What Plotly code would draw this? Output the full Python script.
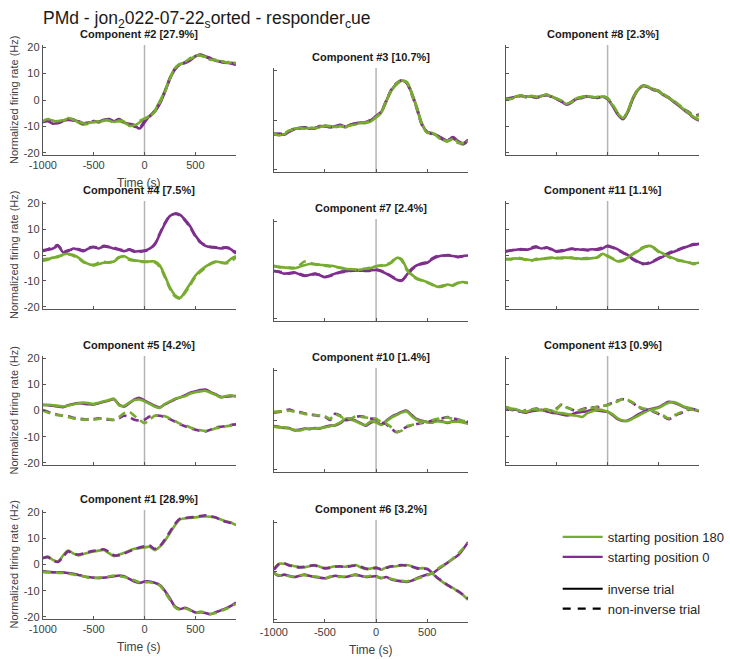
import plotly.graph_objects as go

# ---------------- data ----------------
TIME = [-1000, -950, -900, -850, -800, -750, -700, -650, -600, -550, -500, -450, -400, -350,
        -300, -250, -200, -150, -100, -50, 0, 50, 100, 150, 200, 250, 300, 350, 400, 450,
        500, 550, 600, 650, 700, 750, 800, 850, 900]

X_TICKS = [-1000, -500, 0, 500]
X_TICK_LABELS = ["-1000", "-500", "0", "500"]
Y_TICKS = [-20, -10, 0, 10, 20]
Y_TICK_LABELS = ["-20", "-10", "0", "10", "20"]
Y_TICKS_MID = [-20, 0, 20]

# Component #2
C2_G_SOLID = [-8.5,-7.5,-7.8,-8.3,-7.8,-7.0,-7.3,-8.5,-9.3,-8.8,-8.0,-8.5,-7.8,-7.5,-8.3,-8.0,-8.6,-9.5,-9.8,-8.5,-7.2,-6.0,-4.0,-0.5,3.5,8.5,12.0,13.5,14.2,15.5,16.5,17.0,16.2,15.5,15.0,14.6,14.0,14.2,13.6]
C2_G_DASH = [-8.0,-7.2,-8.0,-8.0,-7.5,-6.8,-7.5,-8.2,-8.8,-9.2,-8.3,-8.0,-7.5,-7.8,-8.5,-7.8,-8.2,-9.8,-9.5,-8.0,-7.0,-6.2,-4.5,-1.0,3.0,8.0,12.0,13.8,14.5,15.8,16.8,16.8,16.0,15.2,15.2,14.8,14.2,14.5,13.8]
C2_P_SOLID = [-8.2,-8.0,-9.0,-8.5,-7.8,-7.5,-7.8,-8.0,-8.8,-8.5,-8.3,-8.2,-7.5,-7.2,-8.0,-7.2,-8.5,-9.0,-9.5,-10.8,-8.5,-6.0,-4.5,-1.5,3.0,8.0,11.5,13.5,14.0,15.0,16.5,17.2,16.5,15.8,14.8,14.5,14.2,13.8,13.3]
C2_P_DASH = [-8.3,-7.8,-8.5,-8.8,-8.0,-7.2,-7.5,-8.3,-9.0,-8.7,-8.0,-8.3,-7.7,-7.3,-8.2,-7.5,-8.3,-9.2,-10.0,-10.5,-8.0,-6.3,-4.2,-1.2,3.2,8.2,11.8,13.6,14.2,15.3,16.6,17.0,16.3,15.6,15.0,14.4,14.1,14.0,13.5]

# Component #4
C4_P_SOLID = [1.5,2.0,2.5,3.5,1.0,1.5,2.5,2.0,1.5,2.5,3.0,2.5,3.3,3.0,2.5,2.0,1.5,2.0,1.3,1.5,1.7,2.5,4.0,8.0,12.0,15.0,16.0,15.5,13.5,11.0,7.5,5.0,3.5,3.0,2.8,2.5,2.8,2.2,0.5]
C4_P_DASH = [1.8,2.2,3.0,3.8,1.2,1.8,2.2,2.3,1.8,2.8,3.2,2.8,3.5,3.2,2.8,2.2,1.8,2.2,1.5,1.3,1.5,2.3,4.2,8.3,12.3,15.2,15.8,15.2,13.2,10.5,7.2,4.8,3.8,3.2,3.0,2.8,3.0,2.5,1.0]
C4_G_SOLID = [-1.7,-1.5,-1.0,-0.8,0.2,0.5,0.0,-1.0,-2.5,-3.5,-4.0,-3.5,-3.0,-2.8,-2.5,-1.0,-0.5,-1.5,-2.0,-2.3,-2.5,-2.5,-2.5,-4.0,-8.0,-12.5,-15.5,-16.5,-14.0,-11.0,-8.0,-6.0,-4.5,-3.2,-2.5,-2.8,-3.0,-1.5,-0.5]
C4_G_DASH = [-2.2,-1.8,-1.2,-0.5,0.0,0.2,-0.3,-1.3,-2.8,-3.2,-3.8,-3.0,-2.6,-3.0,-2.2,-0.8,-0.8,-1.8,-2.2,-2.5,-2.7,-2.7,-2.8,-4.5,-8.5,-13.0,-16.0,-16.8,-14.5,-11.5,-8.5,-6.5,-4.8,-3.5,-2.8,-3.0,-3.2,-2.5,-1.0]

# Component #5
C5_G_SOLID = [2.0,2.2,2.0,1.8,1.5,1.8,2.3,2.8,3.0,2.8,2.5,3.0,3.5,4.0,4.5,2.0,1.8,3.0,4.0,4.2,3.5,2.5,1.5,1.0,2.5,3.5,4.5,5.0,5.5,6.5,7.0,7.3,7.5,6.8,6.0,5.0,5.5,5.8,5.3]
C5_P_SOLID = [2.2,2.0,1.8,1.5,1.3,2.0,2.5,2.8,2.6,2.4,2.3,2.8,3.3,3.8,4.3,2.3,1.5,2.8,4.2,4.8,3.8,2.8,1.8,1.2,2.3,3.3,4.3,5.0,5.8,6.8,7.3,7.8,8.0,7.0,6.2,5.2,5.3,5.5,5.5]
C5_G_DASH = [0.0,-0.8,-1.5,-1.8,-2.0,-2.5,-3.0,-3.3,-3.5,-3.3,-3.5,-3.2,-3.0,-3.3,-3.5,-2.5,-1.0,-0.5,-2.0,-3.5,-4.8,-3.5,-2.0,-1.8,-2.2,-3.0,-4.0,-5.0,-5.5,-6.5,-7.0,-7.5,-7.8,-7.5,-6.8,-6.5,-6.0,-5.8,-5.5]
C5_P_DASH = [0.2,-0.5,-1.2,-1.6,-2.0,-2.2,-2.8,-3.0,-3.3,-3.5,-3.3,-3.0,-3.3,-3.5,-3.6,-3.0,-2.0,-2.5,-3.5,-3.8,-3.5,-2.3,-1.8,-2.0,-2.5,-3.3,-4.3,-5.3,-6.0,-6.8,-7.3,-7.8,-8.0,-7.3,-6.5,-6.2,-6.0,-5.5,-5.3]

# Component #1
C1_G_SOLID = [2.3,3.0,1.7,1.2,3.5,5.3,4.2,3.5,4.0,4.5,5.0,5.3,5.5,4.3,3.2,3.8,4.5,5.3,6.0,6.2,6.5,6.8,5.5,6.8,9.0,12.0,15.0,17.2,17.6,17.8,18.0,18.2,18.3,18.2,17.8,17.2,16.5,16.0,15.0]
C1_P_DASH = [2.5,2.8,1.5,1.0,3.0,5.0,4.0,3.8,4.2,4.8,5.2,5.5,5.8,4.8,3.5,3.5,4.2,5.0,5.8,6.5,7.0,7.2,6.0,7.0,9.5,12.5,15.5,17.5,17.8,18.0,18.2,18.5,18.8,18.5,18.0,17.0,16.3,15.8,15.2]
C1_P_SOLID = [-2.5,-2.8,-3.0,-3.0,-3.0,-3.3,-3.5,-4.0,-4.5,-4.8,-5.0,-5.2,-5.0,-4.8,-4.5,-4.2,-4.5,-5.5,-6.5,-7.0,-6.5,-6.5,-7.0,-7.8,-10.0,-13.0,-16.0,-17.0,-16.5,-17.3,-18.3,-18.2,-18.5,-19.0,-18.2,-17.5,-16.8,-15.8,-14.5]
C1_G_DASH = [-2.8,-3.0,-2.8,-3.2,-3.2,-3.5,-3.8,-4.2,-4.5,-5.0,-5.2,-5.0,-4.8,-4.6,-4.2,-4.5,-4.8,-5.3,-6.0,-6.8,-6.8,-6.8,-7.2,-8.0,-10.5,-13.5,-16.3,-17.3,-16.8,-17.5,-18.5,-18.0,-18.3,-18.8,-18.5,-17.8,-17.0,-16.0,-15.0]

# Component #3
C3_G_SOLID = [-6.0,-6.0,-5.8,-4.5,-3.5,-3.5,-3.2,-3.3,-3.5,-2.8,-2.5,-2.8,-2.8,-2.3,-3.0,-2.0,-1.5,-1.3,-1.2,-0.5,1.0,3.0,7.5,12.0,14.5,16.0,15.5,11.0,5.0,-1.5,-5.0,-5.3,-6.5,-8.0,-8.8,-7.5,-9.0,-10.0,-8.5]
C3_G_DASH = [-5.5,-6.3,-5.5,-4.3,-3.8,-3.2,-3.5,-3.0,-3.3,-3.0,-2.3,-2.5,-3.0,-2.5,-2.7,-2.2,-1.8,-1.0,-1.0,-0.3,1.2,3.3,7.8,12.3,14.8,16.3,15.3,10.5,4.5,-2.0,-5.2,-5.0,-6.8,-8.3,-8.5,-7.8,-9.3,-9.5,-9.0]
C3_P_SOLID = [-5.5,-5.8,-6.0,-4.8,-3.8,-3.2,-3.0,-3.5,-3.3,-2.5,-2.6,-3.0,-2.5,-2.0,-2.8,-1.8,-1.3,-1.0,-1.0,0.0,1.5,3.3,7.8,12.2,14.7,16.0,15.2,10.8,4.8,-1.8,-4.8,-5.5,-6.3,-7.5,-8.5,-7.0,-8.5,-9.5,-8.0]
C3_P_DASH = [-5.8,-5.5,-5.7,-4.6,-3.6,-3.4,-3.1,-3.2,-3.4,-2.7,-2.4,-2.7,-2.6,-2.2,-2.6,-1.9,-1.4,-1.1,-0.8,0.2,1.6,3.5,8.0,12.5,15.0,16.2,15.0,10.3,4.3,-2.2,-5.0,-5.8,-6.5,-7.8,-8.2,-7.3,-8.8,-9.8,-8.3]

# Component #7
C7_G_SOLID = [1.6,1.3,1.1,0.8,0.7,1.3,2.0,2.5,2.5,2.2,2.0,1.8,1.5,0.8,0.5,0.2,0.0,0.2,0.3,0.8,1.5,1.8,2.0,3.0,5.0,4.5,0.5,-2.0,-3.5,-4.3,-5.0,-6.0,-7.0,-6.8,-6.0,-6.5,-5.5,-5.0,-5.5]
C7_G_DASH = [1.8,1.2,0.9,1.0,1.0,2.0,3.5,3.0,2.3,2.0,1.8,1.5,1.2,1.0,0.6,0.4,0.2,0.3,0.6,1.0,1.6,2.0,2.3,3.3,5.3,4.0,0.0,-2.3,-3.8,-4.5,-5.2,-6.2,-6.8,-6.5,-6.2,-6.3,-5.3,-5.2,-5.3]
C7_P_SOLID = [-0.3,-0.8,-1.5,-1.3,-1.0,-1.8,-2.5,-2.0,-1.5,-2.2,-3.0,-2.3,-1.5,-0.8,-0.5,-0.3,0.0,-0.3,-0.3,-0.1,0.0,-0.5,-1.5,-2.8,-4.0,-4.5,-2.0,0.5,2.0,2.5,3.0,4.5,5.5,6.0,6.0,5.8,5.5,5.8,6.0]
C7_P_DASH = [-0.5,-0.6,-1.3,-1.5,-1.2,-1.6,-2.3,-2.2,-1.7,-2.0,-2.8,-2.5,-1.7,-1.0,-0.7,-0.4,-0.2,-0.2,-0.4,-0.3,0.2,-0.3,-1.3,-2.5,-3.8,-4.3,-2.3,0.2,1.8,2.8,3.3,4.8,5.8,5.8,6.2,6.0,5.3,5.6,5.8]

# Component #10
C10_G_SOLID = [-2.7,-3.0,-3.0,-3.5,-4.0,-4.3,-3.7,-3.5,-3.5,-3.3,-3.0,-2.5,-2.0,-1.0,0.5,0.2,-0.5,-1.5,-2.0,-0.5,-1.0,-2.0,-0.5,1.0,2.0,3.0,3.5,1.5,0.0,-0.5,-1.0,-0.8,-0.5,-0.8,-1.0,-0.7,-0.7,-1.0,-1.5]
C10_P_SOLID = [-2.5,-2.8,-3.2,-3.3,-4.2,-4.0,-3.5,-3.7,-3.3,-3.5,-2.8,-2.3,-2.2,-1.3,0.3,0.5,-0.3,-1.3,-2.3,-1.0,-0.8,-1.8,-0.3,1.3,2.3,3.3,3.8,2.0,0.3,-0.3,-0.8,-1.0,-0.3,-0.6,-1.2,-0.5,-0.3,-0.8,-1.3]
C10_G_DASH = [3.3,3.5,3.5,3.8,3.5,3.0,2.5,2.3,2.0,1.8,1.5,0.5,2.3,1.5,0.3,0.5,1.5,1.3,1.0,0.8,0.5,-0.8,-1.5,-3.0,-4.8,-4.3,-2.5,-2.0,-1.5,-1.0,-0.5,0.0,0.5,0.8,1.0,0.5,0.0,-0.3,-0.5]
C10_P_DASH = [3.0,3.3,3.8,4.3,3.5,3.2,2.7,2.2,2.0,1.6,1.3,0.0,2.5,1.8,0.0,0.3,1.3,1.5,1.2,0.6,0.3,-1.0,-1.8,-3.5,-5.0,-4.0,-2.8,-2.2,-1.6,-1.2,-0.8,-0.2,0.3,0.7,1.2,0.8,0.2,-0.2,-0.8]

# Component #6
C6_G_SOLID = [0.7,3.0,3.0,2.5,2.0,1.7,1.5,2.0,2.5,1.8,1.0,1.5,2.0,1.8,1.8,2.2,2.5,1.5,0.8,1.0,1.5,0.5,1.5,1.8,2.0,2.3,2.5,2.0,1.0,1.2,1.0,-1.0,-3.0,-4.5,-6.0,-7.0,-8.5,-10.0,-12.0]
C6_P_DASH = [0.5,2.8,3.2,2.3,1.8,1.5,1.8,2.2,2.3,1.5,1.2,1.3,1.8,2.0,1.6,2.0,2.3,1.8,1.0,0.8,1.3,0.8,1.3,2.0,2.2,2.5,2.2,1.8,1.2,1.0,0.8,-0.8,-2.8,-4.3,-5.8,-7.2,-8.3,-9.8,-11.5]
C6_P_SOLID = [-0.7,-2.0,-1.5,-2.0,-2.5,-2.0,-1.5,-2.0,-2.5,-2.8,-3.0,-2.5,-2.0,-2.3,-2.5,-2.0,-1.5,-2.0,-2.5,-2.3,-2.2,-3.0,-2.5,-3.5,-4.0,-4.3,-4.5,-4.0,-3.0,-2.2,-1.5,-1.0,0.5,2.0,3.5,5.0,6.5,9.0,12.0]
C6_G_DASH = [-1.0,-1.8,-1.8,-2.2,-2.3,-1.8,-1.7,-2.2,-2.3,-2.6,-3.2,-2.3,-2.2,-2.5,-2.3,-1.8,-1.7,-2.2,-2.3,-2.0,-2.4,-2.8,-2.7,-3.3,-3.8,-4.0,-4.3,-3.8,-3.2,-2.5,-1.8,-0.8,0.8,2.2,3.3,5.2,7.0,9.3,11.5]

# Component #8
C8_G_SOLID = [0.4,0.6,1.4,1.7,1.2,1.5,1.0,1.6,2.0,1.2,0.5,-0.5,-1.5,-0.5,0.8,1.0,1.5,1.2,1.0,1.3,0.5,-2.0,-5.0,-7.0,-4.0,1.0,4.0,5.5,5.0,4.0,3.5,2.0,1.0,-0.5,-2.0,-3.5,-5.0,-6.5,-7.5]
C8_G_DASH = [0.6,0.4,1.2,1.8,1.0,1.6,1.2,1.4,2.2,1.0,0.6,-0.3,-1.3,-0.7,0.6,1.2,1.3,1.0,1.2,1.5,0.7,-1.8,-4.8,-6.8,-4.2,0.8,3.8,5.3,5.2,4.2,3.3,2.2,0.8,-0.3,-1.8,-3.3,-4.8,-6.0,-6.0]
C8_P_SOLID = [0.2,0.5,1.3,1.5,1.3,1.3,0.8,1.5,1.8,1.3,0.3,-0.7,-1.8,-0.8,0.5,0.8,1.3,1.0,0.8,1.2,0.3,-2.3,-5.5,-7.3,-4.5,0.5,3.8,5.3,4.8,3.8,3.3,1.8,0.8,-0.7,-2.2,-3.8,-5.2,-6.8,-7.8]
C8_P_DASH = [0.5,0.8,1.2,1.6,1.1,1.4,1.1,1.3,1.9,1.1,0.4,-0.6,-1.6,-0.6,0.7,1.1,1.4,1.1,0.9,1.4,0.6,-2.1,-5.2,-7.1,-4.3,0.7,3.9,5.4,4.9,4.1,3.4,2.1,0.9,-0.4,-1.9,-3.4,-4.6,-5.8,-5.5]

# Component #11
C11_P_SOLID = [1.3,1.7,2.0,2.3,2.0,2.5,3.0,2.5,3.0,2.2,1.3,1.5,2.0,2.3,2.2,2.0,2.0,2.2,2.0,2.5,3.5,3.0,2.2,1.0,0.0,-1.5,-2.6,-3.3,-3.3,-2.5,-1.5,-0.5,0.5,1.2,2.0,2.8,3.5,4.0,4.3]
C11_P_DASH = [1.5,1.8,2.2,2.0,2.2,2.8,3.3,2.3,2.8,2.0,1.5,1.8,2.2,2.5,2.0,2.2,1.8,2.0,2.3,2.8,3.3,2.8,2.0,0.8,-0.2,-1.8,-2.8,-3.5,-3.0,-2.3,-1.2,-0.3,0.8,1.5,2.2,3.0,3.6,4.2,4.0]
C11_G_SOLID = [-1.7,-1.5,-1.3,-1.5,-1.7,-2.0,-1.8,-1.5,-1.3,-1.0,-1.3,-1.0,-1.0,-1.2,-1.3,-1.5,-1.5,-1.2,-1.0,0.5,-0.5,-1.5,-2.5,-2.0,-1.0,0.3,1.5,2.8,3.5,3.0,1.5,0.5,-0.5,-1.3,-2.0,-2.5,-3.0,-3.2,-3.0]
C11_G_DASH = [-1.5,-1.7,-1.0,-1.3,-2.0,-2.3,-1.5,-1.8,-1.2,-1.2,-1.0,-1.3,-0.8,-1.0,-1.5,-1.3,-1.2,-1.4,-0.8,0.3,-0.3,-1.3,-2.3,-2.2,-0.8,0.5,1.8,3.0,3.3,2.8,1.2,0.3,-0.8,-1.5,-2.2,-2.3,-2.8,-3.5,-2.5]

# Component #13
C13_G_SOLID = [1.3,0.8,0.5,-0.3,-0.5,0.2,0.3,0.0,0.3,0.0,-0.8,-1.0,-1.3,-1.8,-2.0,-2.5,-1.0,-0.3,0.3,0.2,-0.5,-1.5,-3.0,-3.8,-4.0,-3.0,-2.0,-1.0,0.0,0.5,1.0,2.0,3.0,3.2,2.5,1.5,1.0,0.5,0.0]
C13_P_SOLID = [1.0,0.5,0.3,-0.5,-0.8,-0.3,0.0,0.3,-0.3,-0.8,-1.0,-1.5,-1.9,-1.5,-0.8,-0.5,-0.3,0.3,0.0,-0.3,-0.5,-1.8,-3.3,-4.0,-3.8,-2.8,-1.5,-0.5,0.3,0.8,1.3,2.3,3.3,3.0,2.3,1.3,0.8,0.3,-0.3]
C13_G_DASH = [1.3,0.5,0.3,-0.3,0.0,0.5,0.5,0.3,0.5,-0.5,0.5,2.5,1.0,0.5,0.0,0.3,0.8,1.0,1.5,1.8,2.0,2.8,3.5,4.5,4.0,3.0,1.5,0.8,0.5,-0.3,-1.0,-2.0,-3.0,-2.0,-1.0,-0.2,0.5,0.2,0.0]
C13_P_DASH = [1.0,0.3,0.0,-0.5,0.2,0.3,0.7,0.0,0.3,-0.3,0.8,2.2,1.2,0.3,-0.2,0.5,1.0,1.2,1.3,1.5,2.2,3.0,3.8,4.3,3.8,2.8,1.3,0.5,0.3,-0.5,-1.3,-2.3,-3.3,-2.3,-1.3,-0.5,0.3,0.5,0.3]

TITLE_TEXT = "PMd - jon<sub>2</sub>022-07-22<sub>s</sub>orted - responder<sub>c</sub>ue"
LEGEND_LABELS = ["starting position 180", "starting position 0", "inverse trial", "non-inverse trial"]

# (title, column, row, purple solid, purple dash, green solid, green dash)
PANELS = [
    ("Component #2 [27.9%]", 1, 1, C2_P_SOLID, C2_P_DASH, C2_G_SOLID, C2_G_DASH),
    ("Component #3 [10.7%]", 2, 1, C3_P_SOLID, C3_P_DASH, C3_G_SOLID, C3_G_DASH),
    ("Component #8 [2.3%]", 3, 1, C8_P_SOLID, C8_P_DASH, C8_G_SOLID, C8_G_DASH),
    ("Component #4 [7.5%]", 1, 2, C4_P_SOLID, C4_P_DASH, C4_G_SOLID, C4_G_DASH),
    ("Component #7 [2.4%]", 2, 2, C7_P_SOLID, C7_P_DASH, C7_G_SOLID, C7_G_DASH),
    ("Component #11 [1.1%]", 3, 2, C11_P_SOLID, C11_P_DASH, C11_G_SOLID, C11_G_DASH),
    ("Component #5 [4.2%]", 1, 3, C5_P_SOLID, C5_P_DASH, C5_G_SOLID, C5_G_DASH),
    ("Component #10 [1.4%]", 2, 3, C10_P_SOLID, C10_P_DASH, C10_G_SOLID, C10_G_DASH),
    ("Component #13 [0.9%]", 3, 3, C13_P_SOLID, C13_P_DASH, C13_G_SOLID, C13_G_DASH),
    ("Component #1 [28.9%]", 1, 4, C1_P_SOLID, C1_P_DASH, C1_G_SOLID, C1_G_DASH),
    ("Component #6 [3.2%]", 2, 4, C6_P_SOLID, C6_P_DASH, C6_G_SOLID, C6_G_DASH),
]

for p in PANELS:
    for arr in p[3:]:
        assert len(arr) == len(TIME), (p[0], len(arr))

# ---------------- styling / layout ----------------
W, H = 730, 659
GREEN = "#77AC30"
PURPLE = "#7E2F8E"
AXIS_COLOR = "#555555"
TEXT_COLOR = "#262626"
FONT = "Liberation Sans, Arial, sans-serif"
LW = 2.6
DASH = "8px,5px"
LEG_DASH = "8px,7px"

COL_X = {1: (43, 237), 2: (275, 470), 3: (508, 702)}
ROW_Y_SIDE = {1: (45, 155), 2: (201, 309), 3: (356, 465), 4: (510, 619)}
ROW_Y_MID = {1: (68, 172), 2: (219, 321), 3: (368, 472), 4: (520, 622)}


def fx(px):
    return px / W


def fy(py):
    return 1 - py / H


fig = go.Figure()
layout = dict(
    width=W, height=H,
    margin=dict(l=0, r=0, t=0, b=0, pad=0),
    paper_bgcolor="white", plot_bgcolor="white",
    font=dict(family=FONT, color=TEXT_COLOR, size=11),
    annotations=[], shapes=[],
)

for i, (title, col, row, p_solid, p_dash, g_solid, g_dash) in enumerate(PANELS, start=1):
    sfx = "" if i == 1 else str(i)
    xref, yref = "x" + sfx, "y" + sfx
    x0, x1 = COL_X[col]
    y_top, y_bot = (ROW_Y_MID if col == 2 else ROW_Y_SIDE)[row]
    yr = 21.2 if col == 2 else 20.8
    show_xlabels = (row == 1 and col == 1) or (row == 4)

    layout["xaxis" + sfx] = dict(
        domain=[fx(x0), fx(x1)], range=[-1000, 900], anchor=yref,
        showline=True, linecolor=AXIS_COLOR, linewidth=1,
        ticks="inside", ticklen=3, tickcolor=AXIS_COLOR,
        tickvals=X_TICKS, ticktext=X_TICK_LABELS,
        showticklabels=show_xlabels, showgrid=False, zeroline=False,
        tickfont=dict(size=11, color="#404040"), fixedrange=True, automargin=False,
    )
    layout["yaxis" + sfx] = dict(
        domain=[fy(y_bot), fy(y_top)], range=[-yr, yr], anchor=xref,
        showline=True, linecolor=AXIS_COLOR, linewidth=1,
        ticks="inside", ticklen=3, tickcolor=AXIS_COLOR,
        tickvals=Y_TICKS_MID if col == 2 else Y_TICKS,
        ticktext=None if col == 2 else Y_TICK_LABELS,
        showticklabels=(col == 1), showgrid=False, zeroline=False,
        tickfont=dict(size=11, color="#404040"), fixedrange=True, automargin=False,
    )

    # event marker at time 0
    layout["shapes"].append(dict(
        type="line", xref=xref, yref=yref + " domain", x0=0, x1=0, y0=0, y1=1,
        line=dict(color="#b4b4b4", width=1.5), layer="below",
    ))

    for yv, color, dash in ((p_solid, PURPLE, "solid"), (g_solid, GREEN, "solid"),
                            (p_dash, PURPLE, DASH), (g_dash, GREEN, DASH)):
        fig.add_trace(go.Scatter(
            x=TIME, y=yv, mode="lines", xaxis=xref, yaxis=yref, showlegend=False,
            line=dict(color=color, width=LW, dash=dash, shape="spline", smoothing=0.8),
            hoverinfo="skip",
        ))

    # panel title
    layout["annotations"].append(dict(
        text="<b>" + title + "</b>", xref="paper", yref="paper",
        x=fx((x0 + x1) / 2), y=fy(y_top - 11), xanchor="center", yanchor="middle",
        showarrow=False, font=dict(size=11, color="#1a1a1a", family=FONT),
    ))
    if col == 1:
        layout["annotations"].append(dict(
            text="Normalized firing rate (Hz)", xref="paper", yref="paper",
            x=fx(14), y=fy((y_top + y_bot) / 2), xanchor="center", yanchor="middle",
            textangle=-90, showarrow=False, font=dict(size=11, color="#404040", family=FONT),
        ))
    if show_xlabels:
        layout["annotations"].append(dict(
            text="Time (s)", xref="paper", yref="paper",
            x=fx((x0 + x1) / 2), y=fy(y_bot + 28), xanchor="center", yanchor="middle",
            showarrow=False, font=dict(size=12, color="#404040", family=FONT),
        ))

# legend entries (dummy traces)
for label, color, dash, grp in ((LEGEND_LABELS[0], GREEN, "solid", "pos"),
                                (LEGEND_LABELS[1], PURPLE, "solid", "pos"),
                                (LEGEND_LABELS[2], "black", "solid", "trial"),
                                (LEGEND_LABELS[3], "black", LEG_DASH, "trial")):
    fig.add_trace(go.Scatter(
        x=[None], y=[None], mode="lines", name=label, legendgroup=grp,
        line=dict(color=color, width=2.2, dash=dash), xaxis="x11", yaxis="y11",
    ))

layout["showlegend"] = True
layout["legend"] = dict(
    x=fx(560), y=fy(522), xanchor="left", yanchor="top",
    bgcolor="rgba(0,0,0,0)", borderwidth=0,
    font=dict(size=13, color=TEXT_COLOR, family=FONT),
    traceorder="grouped", tracegroupgap=12, itemwidth=40,
)

layout["annotations"].append(dict(
    text=TITLE_TEXT, xref="paper", yref="paper", x=fx(41), y=fy(20),
    xanchor="left", yanchor="middle", showarrow=False,
    font=dict(size=17.5, color="#1a1a1a", family=FONT),
))

fig.update_layout(**layout)
fig.write_html("out.html")
